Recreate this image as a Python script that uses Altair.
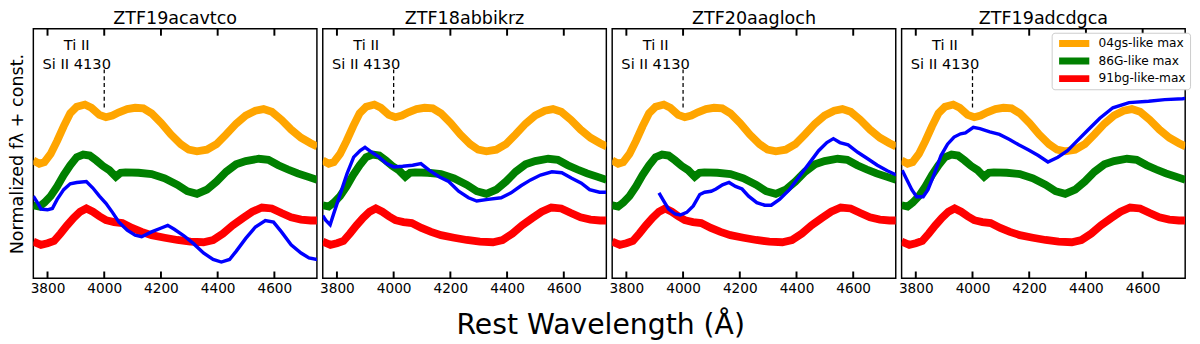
import altair as alt
import pandas as pd

FONT = "DejaVu Sans"

# ---------------- template spectra (same in every panel) ----------------
orange_w = [3750, 3771, 3789, 3811, 3834, 3857, 3880, 3903, 3932, 3955, 3983, 4006, 4029, 4052,
            4081, 4109, 4138, 4167, 4201, 4235, 4270, 4298, 4327, 4362, 4396, 4430, 4465, 4499,
            4533, 4562, 4591, 4625, 4659, 4694, 4728, 4751]
orange_f = [3.63, 3.53, 3.58, 3.83, 4.23, 4.68, 5.08, 5.28, 5.35, 5.25, 5.03, 4.96, 5.01, 5.11,
            5.21, 5.25, 5.23, 5.08, 4.78, 4.43, 4.13, 3.96, 3.91, 3.96, 4.13, 4.43, 4.76, 5.01,
            5.16, 5.21, 5.13, 4.88, 4.58, 4.33, 4.16, 4.06]

green_w = [3750, 3771, 3789, 3811, 3834, 3857, 3880, 3903, 3926, 3949, 3972, 3995, 4018, 4041,
           4058, 4075, 4121, 4167, 4213, 4258, 4293, 4327, 4362, 4396, 4430, 4465, 4499, 4545,
           4579, 4614, 4648, 4682, 4717, 4751]
green_f = [2.25, 2.21, 2.33, 2.53, 2.83, 3.18, 3.48, 3.73, 3.81, 3.78, 3.63, 3.46, 3.33, 3.13,
           3.25, 3.26, 3.25, 3.21, 3.08, 2.88, 2.68, 2.60, 2.73, 2.98, 3.28, 3.51, 3.61, 3.68,
           3.65, 3.48, 3.35, 3.23, 3.13, 3.03]

red_w = [3750, 3777, 3800, 3823, 3846, 3869, 3892, 3915, 3937, 3960, 3983, 4006, 4035, 4064,
         4098, 4132, 4167, 4213, 4258, 4304, 4350, 4384, 4419, 4453, 4488, 4522, 4556, 4591,
         4625, 4659, 4694, 4728, 4751]
red_f = [1.13, 1.03, 1.08, 1.15, 1.38, 1.63, 1.86, 2.05, 2.15, 2.05, 1.91, 1.79, 1.73, 1.70,
         1.55, 1.43, 1.33, 1.25, 1.18, 1.13, 1.11, 1.18, 1.38, 1.63, 1.85, 2.05, 2.18, 2.15,
         2.01, 1.88, 1.81, 1.78, 1.78]

template_names = ["04gs-like max", "86G-like max", "91bg-like-max"]
template_colors = ["#FFA500", "#008000", "#FF0000"]

# ---------------- object spectra (blue) ----------------
panel_names = ["ZTF19acavtco", "ZTF18abbikrz", "ZTF20aagloch", "ZTF19adcdgca"]

blue1_w = [3750, 3766, 3777, 3800, 3817, 3834, 3857, 3880, 3903, 3937, 3960, 3983, 4006, 4029,
           4052, 4081, 4109, 4132, 4167, 4201, 4224, 4247, 4281, 4316, 4350, 4384, 4413, 4442,
           4465, 4499, 4533, 4568, 4597, 4625, 4659, 4694, 4722, 4751]
blue1_f = [2.53, 2.31, 2.13, 2.11, 2.15, 2.43, 2.73, 2.91, 2.95, 2.98, 2.78, 2.53, 2.31, 2.03,
           1.73, 1.48, 1.33, 1.28, 1.43, 1.55, 1.63, 1.51, 1.31, 1.06, 0.78, 0.58, 0.50, 0.58,
           0.83, 1.23, 1.58, 1.78, 1.73, 1.43, 1.03, 0.78, 0.63, 0.58]

blue2_w = [3750, 3761, 3776, 3790, 3813, 3836, 3859, 3882, 3899, 3923, 3946, 3975, 4000, 4032,
           4067, 4096, 4125, 4160, 4194, 4229, 4264, 4293, 4333, 4379, 4414, 4449, 4483, 4518,
           4558, 4593, 4628, 4662, 4691, 4726, 4750]
blue2_f = [1.93, 1.78, 1.65, 2.03, 2.63, 3.23, 3.73, 3.93, 4.03, 3.88, 3.75, 3.53, 3.43, 3.45,
           3.48, 3.53, 3.33, 3.13, 2.98, 2.68, 2.48, 2.38, 2.43, 2.48, 2.63, 2.85, 3.03, 3.18,
           3.28, 3.25, 3.08, 2.93, 2.73, 2.65, 2.65]

blue3_w = [3915, 3932, 3949, 3972, 3990, 4013, 4036, 4059, 4076, 4099, 4116, 4139, 4162, 4185,
           4208, 4231, 4260, 4288, 4311, 4340, 4375, 4409, 4444, 4478, 4507, 4530, 4553, 4582,
           4616, 4651, 4685, 4720, 4752]
blue3_f = [2.63, 2.38, 2.13, 1.98, 1.95, 2.03, 2.23, 2.58, 2.65, 2.68, 2.75, 2.88, 2.95, 2.83,
           2.75, 2.53, 2.33, 2.25, 2.25, 2.43, 2.73, 3.13, 3.53, 3.93, 4.18, 4.30, 4.18, 4.11,
           3.88, 3.68, 3.48, 3.31, 3.18]

blue4_w = [3752, 3769, 3786, 3803, 3826, 3843, 3866, 3889, 3912, 3935, 3958, 3975, 4003, 4026,
           4061, 4095, 4129, 4163, 4198, 4232, 4266, 4301, 4335, 4369, 4409, 4449, 4495, 4552,
           4621, 4678, 4741, 4750]
blue4_f = [3.33, 3.03, 2.73, 2.51, 2.51, 2.73, 3.23, 3.78, 4.13, 4.35, 4.45, 4.48, 4.65, 4.61,
           4.51, 4.43, 4.28, 4.11, 3.95, 3.78, 3.58, 3.73, 3.93, 4.23, 4.58, 4.93, 5.25, 5.41,
           5.45, 5.50, 5.53, 5.54]

blue_w = [blue1_w, blue2_w, blue3_w, blue4_w]
blue_f = [blue1_f, blue2_f, blue3_f, blue4_f]

# ---------------- annotation / axis values ----------------
tick_values = [3800, 4000, 4200, 4400, 4600]
x_domain = [3750, 4750]
y_domain = [0, 7.68]
line_wave = [4000]
line_top = [6.43]
line_bottom = [5.18]
label_wave = [3903, 3903]
label_flux = [7.18, 6.60]
label_text = ["Ti II", "Si II 4130"]

# ---------------- tables ----------------
rows = []
for name, ws, fs in zip(template_names, [orange_w, green_w, red_w], [orange_f, green_f, red_f]):
    for w, f in zip(ws, fs):
        rows.append({"wave": w, "flux": f, "template": name})
tmpl_df = pd.DataFrame(rows)
tick_df = pd.DataFrame({"wave": tick_values})
line_df = pd.DataFrame({"wave": line_wave, "top": line_top, "bottom": line_bottom})
lab_df = pd.DataFrame({"wave": label_wave, "flux": label_flux, "text": label_text})

W, H = 291, 256
xs = alt.Scale(domain=x_domain, nice=False, zero=False)
ys = alt.Scale(domain=y_domain, nice=False, zero=False)


def panel(i):
    first = i == 0
    last = i == 3
    xaxis = alt.Axis(values=tick_values, title=None, ticks=False, domain=False, grid=False,
                     labelFontSize=14, labelPadding=4, labelFlush=False, labelFont=FONT,
                     labelColor="black", labelOverlap=False, format="d")
    if first:
        yaxis = alt.Axis(title="Normalized f\u03bb + const.", labels=False, ticks=False,
                         domain=False, grid=False, titleFontSize=18, titleFont=FONT,
                         titleFontWeight="normal", titleColor="black", titlePadding=7)
    else:
        yaxis = None
    if last:
        legend = alt.Legend(title=None, orient="none", legendX=154, legendY=4,
                            symbolType="M-1,0H7", symbolStrokeWidth=7, symbolSize=60,
                            labelFontSize=12.5, labelFont=FONT, labelColor="black",
                            fillColor="white", strokeColor="#cccccc", cornerRadius=3,
                            padding=4, rowPadding=4, clipHeight=14, labelOffset=29)
    else:
        legend = None

    tmpl = alt.Chart(tmpl_df).mark_line(strokeWidth=8, clip=True).encode(
        x=alt.X("wave:Q", scale=xs, axis=xaxis),
        y=alt.Y("flux:Q", scale=ys, axis=yaxis),
        color=alt.Color("template:N", scale=alt.Scale(domain=template_names, range=template_colors),
                        legend=legend, sort=template_names),
    )
    bdf = pd.DataFrame({"wave": blue_w[i], "flux": blue_f[i]})
    blue = alt.Chart(bdf).mark_line(strokeWidth=3.5, color="#0000FF", clip=True).encode(
        x=alt.X("wave:Q", scale=xs), y=alt.Y("flux:Q", scale=ys))
    tick_top = alt.Chart(tick_df).mark_rule(color="black", strokeWidth=2).encode(
        x=alt.X("wave:Q", scale=xs), y=alt.value(0), y2=alt.value(7))
    tick_bot = alt.Chart(tick_df).mark_rule(color="black", strokeWidth=2).encode(
        x=alt.X("wave:Q", scale=xs), y=alt.value(H - 7), y2=alt.value(H))
    dash = alt.Chart(line_df).mark_rule(color="black", strokeWidth=1.3, strokeDash=[4, 3]).encode(
        x=alt.X("wave:Q", scale=xs), y=alt.Y("top:Q", scale=ys), y2="bottom:Q")
    text = alt.Chart(lab_df).mark_text(font=FONT, fontSize=15, color="black", align="center",
                                       baseline="middle").encode(
        x=alt.X("wave:Q", scale=xs), y=alt.Y("flux:Q", scale=ys), text="text:N")
    return alt.layer(tmpl, blue, tick_top, tick_bot, dash, text).properties(
        width=W, height=H,
        title=alt.TitleParams(panel_names[i], fontSize=18, fontWeight="normal", font=FONT,
                              color="black", offset=0),
    )


chart = alt.hconcat(*[panel(i) for i in range(4)], spacing=0).resolve_legend(
    color="independent"
).properties(
    title=alt.TitleParams("Rest Wavelength (\u00c5)", orient="bottom", anchor="middle",
                          fontSize=29, fontWeight="normal", font=FONT, color="black",
                          offset=15, dx=1),
    padding={"left": 0, "top": -3, "right": 0, "bottom": 0},
).configure_view(stroke="black", strokeWidth=1.5)

chart.save("out.html", embed_options={"renderer": "svg", "actions": False})
